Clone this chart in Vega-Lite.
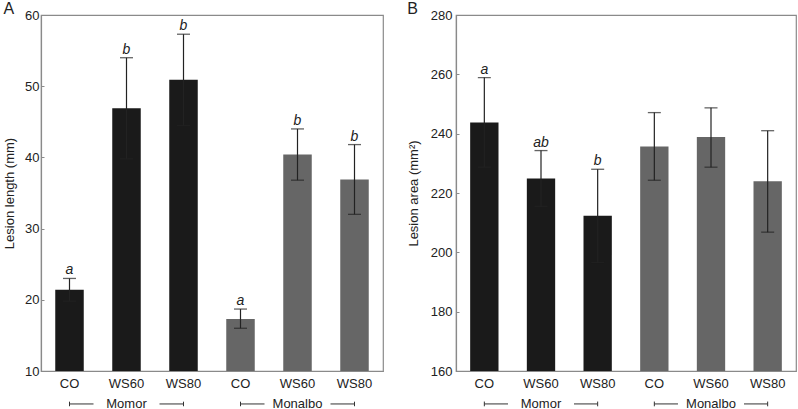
{
  "$schema": "https://vega.github.io/schema/vega-lite/v6.json",
  "padding": {"left": 2, "top": 0, "right": 0, "bottom": 0},
  "background": "white",
  "datasets": {
    "A": [
      {"id": "Momor CO", "cultivar": "Momor", "mean": 21.4, "lo": 19.8, "hi": 23.0, "letter": "a"},
      {"id": "Momor WS60", "cultivar": "Momor", "mean": 46.9, "lo": 39.8, "hi": 54.0, "letter": "b"},
      {"id": "Momor WS80", "cultivar": "Momor", "mean": 50.9, "lo": 44.5, "hi": 57.3, "letter": "b"},
      {"id": "Monalbo CO", "cultivar": "Monalbo", "mean": 17.3, "lo": 16.0, "hi": 18.7, "letter": "a"},
      {"id": "Monalbo WS60", "cultivar": "Monalbo", "mean": 40.4, "lo": 36.8, "hi": 44.0, "letter": "b"},
      {"id": "Monalbo WS80", "cultivar": "Monalbo", "mean": 36.9, "lo": 32.0, "hi": 41.8, "letter": "b"}
    ],
    "B": [
      {"id": "Momor CO", "cultivar": "Momor", "mean": 243.8, "lo": 228.7, "hi": 258.9, "letter": "a"},
      {"id": "Momor WS60", "cultivar": "Momor", "mean": 224.9, "lo": 215.5, "hi": 234.3, "letter": "ab"},
      {"id": "Momor WS80", "cultivar": "Momor", "mean": 212.3, "lo": 196.6, "hi": 228.0, "letter": "b"},
      {"id": "Monalbo CO", "cultivar": "Monalbo", "mean": 235.7, "lo": 224.3, "hi": 247.1, "letter": ""},
      {"id": "Monalbo WS60", "cultivar": "Monalbo", "mean": 238.9, "lo": 228.7, "hi": 248.7, "letter": ""},
      {"id": "Monalbo WS80", "cultivar": "Monalbo", "mean": 224.0, "lo": 206.8, "hi": 241.0, "letter": ""}
    ],
    "groups": [
      {"cultivar": "Momor", "start": "Momor CO", "mid": "Momor WS60", "end": "Momor WS80"},
      {"cultivar": "Monalbo", "start": "Monalbo CO", "mid": "Monalbo WS60", "end": "Monalbo WS80"}
    ]
  },
  "config": {
    "font": "Liberation Sans",
    "view": {"stroke": "#8a8a8a", "strokeWidth": 1.2},
    "axis": {
      "grid": false,
      "domainColor": "#8a8a8a",
      "domainWidth": 1.2,
      "tickColor": "#8a8a8a",
      "labelColor": "#222222",
      "titleColor": "#222222",
      "labelFont": "Liberation Sans",
      "titleFont": "Liberation Sans",
      "labelFontSize": 13,
      "titleFontSize": 13,
      "titleFontWeight": "normal"
    },
    "title": {"font": "Liberation Sans", "fontSize": 16, "fontWeight": "normal", "anchor": "start", "frame": "bounds", "color": "#222222"},
    "concat": {"spacing": 22}
  },
  "hconcat": [
    {
      "title": {"text": "A", "offset": -8},
      "width": 342,
      "height": 356,
      "data": {"name": "A"},
      "layer": [
        {
          "mark": {"type": "bar"},
          "encoding": {
            "x": {"field": "id", "type": "nominal", "sort": null,
                  "scale": {"type": "band", "paddingInner": 0.5, "paddingOuter": 0.25},
                  "axis": {"title": null, "labelAngle": 0, "ticks": false, "labelPadding": 6,
                           "labelExpr": "split(datum.label, ' ')[1]"}},
            "y": {"field": "mean", "type": "quantitative",
                  "scale": {"domain": [10, 60], "zero": false, "nice": false},
                  "axis": {"title": "Lesion length (mm)", "values": [10, 20, 30, 40, 50, 60],
                           "tickSize": -3, "labelPadding": 5, "titlePadding": 8}},
            "y2": {"datum": 10},
            "color": {"field": "cultivar", "type": "nominal",
                      "scale": {"domain": ["Momor", "Monalbo"], "range": ["#1a1a1a", "#666666"]},
                      "legend": null}
          }
        },
        {
          "mark": {"type": "rule", "color": "#222222", "strokeWidth": 1.2},
          "encoding": {
            "x": {"field": "id", "type": "nominal", "sort": null},
            "y": {"field": "lo", "type": "quantitative"},
            "y2": {"field": "hi"}
          }
        },
        {
          "mark": {"type": "tick", "color": "#222222", "size": 13, "thickness": 1.3},
          "encoding": {
            "x": {"field": "id", "type": "nominal", "sort": null},
            "y": {"field": "hi", "type": "quantitative"}
          }
        },
        {
          "mark": {"type": "tick", "color": "#222222", "size": 13, "thickness": 1.3},
          "encoding": {
            "x": {"field": "id", "type": "nominal", "sort": null},
            "y": {"field": "lo", "type": "quantitative"}
          }
        },
        {
          "mark": {"type": "text", "fontStyle": "italic", "fontSize": 14, "baseline": "alphabetic", "dy": -4, "color": "#222222"},
          "encoding": {
            "x": {"field": "id", "type": "nominal", "sort": null},
            "y": {"field": "hi", "type": "quantitative"},
            "text": {"field": "letter"}
          }
        },
        {
          "data": {"name": "groups"},
          "mark": {"type": "rule", "color": "#333333", "strokeWidth": 1, "x2Offset": -33},
          "encoding": {
            "x": {"field": "start", "type": "nominal", "sort": null},
            "x2": {"field": "mid"},
            "y": {"datum": 5.37, "type": "quantitative"}
          }
        },
        {
          "data": {"name": "groups"},
          "mark": {"type": "rule", "color": "#333333", "strokeWidth": 1, "xOffset": 33},
          "encoding": {
            "x": {"field": "mid", "type": "nominal", "sort": null},
            "x2": {"field": "end"},
            "y": {"datum": 5.37, "type": "quantitative"}
          }
        },
        {
          "data": {"name": "groups"},
          "mark": {"type": "rule", "color": "#333333", "strokeWidth": 1},
          "encoding": {
            "x": {"field": "start", "type": "nominal", "sort": null},
            "y": {"datum": 5.05, "type": "quantitative"},
            "y2": {"datum": 5.69}
          }
        },
        {
          "data": {"name": "groups"},
          "mark": {"type": "rule", "color": "#333333", "strokeWidth": 1},
          "encoding": {
            "x": {"field": "end", "type": "nominal", "sort": null},
            "y": {"datum": 5.05, "type": "quantitative"},
            "y2": {"datum": 5.69}
          }
        },
        {
          "data": {"name": "groups"},
          "mark": {"type": "text", "fontSize": 13, "baseline": "middle", "color": "#222222"},
          "encoding": {
            "x": {"field": "mid", "type": "nominal", "sort": null},
            "y": {"datum": 5.37, "type": "quantitative"},
            "text": {"field": "cultivar"}
          }
        }
      ]
    },
    {
      "title": {"text": "B", "offset": -8},
      "width": 340,
      "height": 356,
      "data": {"name": "B"},
      "layer": [
        {
          "mark": {"type": "bar"},
          "encoding": {
            "x": {"field": "id", "type": "nominal", "sort": null,
                  "scale": {"type": "band", "paddingInner": 0.5, "paddingOuter": 0.25},
                  "axis": {"title": null, "labelAngle": 0, "ticks": false, "labelPadding": 6,
                           "labelExpr": "split(datum.label, ' ')[1]"}},
            "y": {"field": "mean", "type": "quantitative",
                  "scale": {"domain": [160, 280], "zero": false, "nice": false},
                  "axis": {"title": "Lesion area (mm²)", "values": [160, 180, 200, 220, 240, 260, 280],
                           "tickSize": -3, "labelPadding": 7, "titlePadding": 10}},
            "y2": {"datum": 160},
            "color": {"field": "cultivar", "type": "nominal",
                      "scale": {"domain": ["Momor", "Monalbo"], "range": ["#1a1a1a", "#666666"]},
                      "legend": null}
          }
        },
        {
          "mark": {"type": "rule", "color": "#222222", "strokeWidth": 1.2},
          "encoding": {
            "x": {"field": "id", "type": "nominal", "sort": null},
            "y": {"field": "lo", "type": "quantitative"},
            "y2": {"field": "hi"}
          }
        },
        {
          "mark": {"type": "tick", "color": "#222222", "size": 13, "thickness": 1.3},
          "encoding": {
            "x": {"field": "id", "type": "nominal", "sort": null},
            "y": {"field": "hi", "type": "quantitative"}
          }
        },
        {
          "mark": {"type": "tick", "color": "#222222", "size": 13, "thickness": 1.3},
          "encoding": {
            "x": {"field": "id", "type": "nominal", "sort": null},
            "y": {"field": "lo", "type": "quantitative"}
          }
        },
        {
          "mark": {"type": "text", "fontStyle": "italic", "fontSize": 14, "baseline": "alphabetic", "dy": -4, "color": "#222222"},
          "encoding": {
            "x": {"field": "id", "type": "nominal", "sort": null},
            "y": {"field": "hi", "type": "quantitative"},
            "text": {"field": "letter"}
          }
        },
        {
          "data": {"name": "groups"},
          "mark": {"type": "rule", "color": "#333333", "strokeWidth": 1, "x2Offset": -33},
          "encoding": {
            "x": {"field": "start", "type": "nominal", "sort": null},
            "x2": {"field": "mid"},
            "y": {"datum": 148.9, "type": "quantitative"}
          }
        },
        {
          "data": {"name": "groups"},
          "mark": {"type": "rule", "color": "#333333", "strokeWidth": 1, "xOffset": 33},
          "encoding": {
            "x": {"field": "mid", "type": "nominal", "sort": null},
            "x2": {"field": "end"},
            "y": {"datum": 148.9, "type": "quantitative"}
          }
        },
        {
          "data": {"name": "groups"},
          "mark": {"type": "rule", "color": "#333333", "strokeWidth": 1},
          "encoding": {
            "x": {"field": "start", "type": "nominal", "sort": null},
            "y": {"datum": 148.1, "type": "quantitative"},
            "y2": {"datum": 149.7}
          }
        },
        {
          "data": {"name": "groups"},
          "mark": {"type": "rule", "color": "#333333", "strokeWidth": 1},
          "encoding": {
            "x": {"field": "end", "type": "nominal", "sort": null},
            "y": {"datum": 148.1, "type": "quantitative"},
            "y2": {"datum": 149.7}
          }
        },
        {
          "data": {"name": "groups"},
          "mark": {"type": "text", "fontSize": 13, "baseline": "middle", "color": "#222222"},
          "encoding": {
            "x": {"field": "mid", "type": "nominal", "sort": null},
            "y": {"datum": 148.9, "type": "quantitative"},
            "text": {"field": "cultivar"}
          }
        }
      ]
    }
  ]
}
